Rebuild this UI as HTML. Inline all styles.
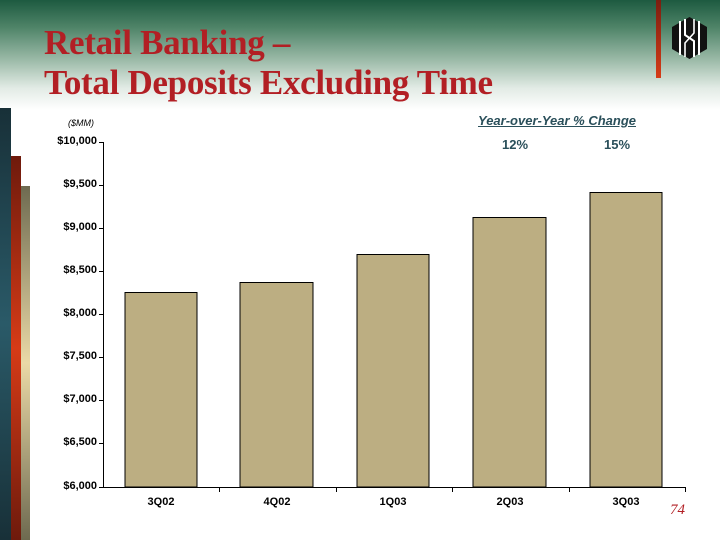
<!DOCTYPE html>
<html><head><style>
body{margin:0;width:720px;height:540px;overflow:hidden;background:#fff;font-family:"Liberation Sans",sans-serif;position:relative}
.top{position:absolute;left:0;top:0;width:720px;height:110px;background:linear-gradient(#1d5a40 0%,#4f8468 25%,#9dbba9 55%,#e2ebe5 80%,#fff 100%)}
h1{position:absolute;left:44px;top:23px;margin:0;font-family:"Liberation Serif",serif;font-weight:bold;color:#b21f24;font-size:35px;line-height:40px;letter-spacing:-0.3px}
.a{position:absolute}
.yl{position:absolute;font-size:11px;font-weight:bold;text-align:right;width:60px;left:37px}
.xl{position:absolute;font-size:11px;font-weight:bold;text-align:center;width:80px;top:496px}
</style></head><body>
<div class="top"></div>
<div class="a" style="left:656px;top:0;width:5px;height:78px;background:linear-gradient(#7a1e10,#d63b17)"></div>
<svg class="a" style="left:672px;top:17px" width="35" height="42" viewBox="0 0 35 42">
<polygon points="17.5,0 35,10 35,32 17.5,42 0,32 0,10" fill="#111"/>
<g stroke="#fff" stroke-width="2" fill="none"><line x1="8" y1="4" x2="8" y2="38"/><line x1="27" y1="4" x2="27" y2="38"/><path d="M13 2V18L22 24V40"/><path d="M22 2V16L13 26V40" stroke-width="1.6"/></g>
</svg>
<h1>Retail Banking –<br>Total Deposits Excluding Time</h1>
<div class="a" style="left:0;top:108px;width:11px;height:432px;background:linear-gradient(#183038,#2a5a68 50%,#183038)"></div>
<div class="a" style="left:11px;top:156px;width:10px;height:384px;background:linear-gradient(#6e1a0c,#d63b17 50%,#6e1a0c)"></div>
<div class="a" style="left:21px;top:186px;width:9px;height:354px;background:linear-gradient(#6e6a50,#ead9a6 50%,#6e6a50)"></div>
<div class="a" style="left:68px;top:118px;font-size:9px;font-style:italic">($MM)</div>
<div class="a" style="left:478px;top:113px;font-size:13px;font-weight:bold;font-style:italic;color:#2a4f5a;text-decoration:underline">Year-over-Year % Change</div>
<div class="a" style="left:502px;top:137px;font-size:13px;font-weight:bold;color:#2a4f5a">12%</div>
<div class="a" style="left:604px;top:137px;font-size:13px;font-weight:bold;color:#2a4f5a">15%</div>
<svg class="a" style="left:0;top:0" width="720" height="540">
<g fill="#bcae82" stroke="#000" stroke-width="1">
<rect x="125" y="292.5" width="72" height="194.5"/>
<rect x="240" y="282.5" width="73" height="204.5"/>
<rect x="357" y="254.5" width="72" height="232.5"/>
<rect x="473" y="217.5" width="73" height="269.5"/>
<rect x="590" y="192.5" width="72" height="294.5"/>
</g>
<g stroke="#000" stroke-width="1">
<line x1="103.5" y1="142" x2="103.5" y2="487"/>
<line x1="103" y1="487.5" x2="685" y2="487.5"/>
<line x1="99" y1="142.5" x2="103" y2="142.5"/><line x1="99" y1="185.5" x2="103" y2="185.5"/><line x1="99" y1="228.5" x2="103" y2="228.5"/><line x1="99" y1="271.5" x2="103" y2="271.5"/><line x1="99" y1="314.5" x2="103" y2="314.5"/><line x1="99" y1="357.5" x2="103" y2="357.5"/><line x1="99" y1="400.5" x2="103" y2="400.5"/><line x1="99" y1="443.5" x2="103" y2="443.5"/><line x1="99" y1="487.5" x2="103" y2="487.5"/>
<line x1="219.5" y1="487" x2="219.5" y2="492"/><line x1="336.5" y1="487" x2="336.5" y2="492"/><line x1="452.5" y1="487" x2="452.5" y2="492"/><line x1="569.5" y1="487" x2="569.5" y2="492"/><line x1="685.5" y1="487" x2="685.5" y2="492"/>
</g></svg>
<div class="yl" style="top:135px">$10,000</div>
<div class="yl" style="top:178px">$9,500</div>
<div class="yl" style="top:221px">$9,000</div>
<div class="yl" style="top:264px">$8,500</div>
<div class="yl" style="top:307px">$8,000</div>
<div class="yl" style="top:350px">$7,500</div>
<div class="yl" style="top:393px">$7,000</div>
<div class="yl" style="top:436px">$6,500</div>
<div class="yl" style="top:480px">$6,000</div>
<div class="xl" style="left:121px">3Q02</div>
<div class="xl" style="left:237px">4Q02</div>
<div class="xl" style="left:353px">1Q03</div>
<div class="xl" style="left:470px">2Q03</div>
<div class="xl" style="left:586px">3Q03</div>
<div class="a" style="left:670px;top:502px;font-family:'Liberation Serif',serif;font-style:italic;color:#b21f24;font-size:15px">74</div>
</body></html>
